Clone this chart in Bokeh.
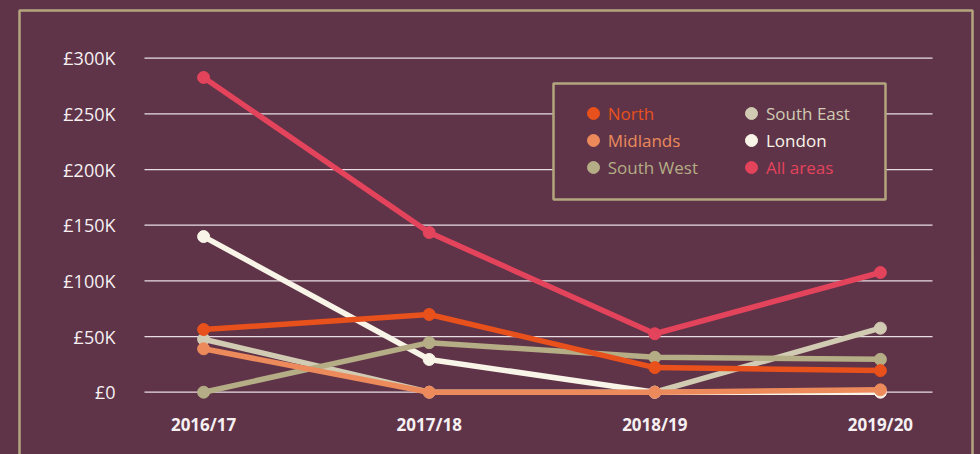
from bokeh.plotting import figure
from bokeh.models import Range1d, Legend, LegendItem, BoxAnnotation
from bokeh.core.properties import value
from bokeh.embed import file_html
from bokeh.resources import INLINE

# ---- data (values in £ thousands) ----
years = ["2016/17", "2017/18", "2018/19", "2019/20"]
north = [56.3, 69.8, 22.1, 19.4]
midlands = [39.0, 0.0, 0.0, 2.1]
south_west = [0.0, 44.5, 31.3, 29.5]
south_east = [47.6, 0.0, 0.0, 57.5]
london = [139.8, 29.4, 0.0, 0.0]
all_areas = [282.7, 143.4, 52.5, 107.5]
y_ticks = [0, 50, 100, 150, 200, 250, 300]
y_tick_labels = ["£0", "£50K", "£100K", "£150K", "£200K", "£250K", "£300K"]

BG = "#5f3448"
GOLD = "#b3a67e"
FONT = "Open Sans"
TXT = "#f6f0f2"

x = list(range(len(years)))
GRID_X0, GRID_X1 = -0.262, 3.231   # horizontal extent of the value grid

# the frame covers the whole canvas; the (inner) value area is drawn inside it
p = figure(width=980, height=454, output_backend="svg", toolbar_location=None,
           x_axis_type=None, y_axis_type=None,
           x_range=Range1d(-0.9003, 3.4437), y_range=Range1d(-55.96, 351.83),
           min_border=0)
p.background_fill_color = BG
p.border_fill_color = BG
p.outline_line_color = None

# grid lines
p.segment(x0=[GRID_X0] * len(y_ticks), x1=[GRID_X1] * len(y_ticks),
          y0=y_ticks, y1=y_ticks, line_color="#e9dde3", line_width=1.2)

# y tick labels
p.text(x=[GRID_X0] * len(y_ticks), y=y_ticks, text=y_tick_labels,
       x_offset=-29, text_align="right", text_baseline="middle",
       text_color=TXT, text_font=value(FONT), text_font_size="18px")
# x tick labels
p.text(x=x, y=[0] * len(x), text=years, y_offset=32,
       text_align="center", text_baseline="middle",
       text_color=TXT, text_font=value(FONT), text_font_size="17px",
       text_font_style="bold")

# outer frame and legend box
p.add_layout(BoxAnnotation(left=19, right=972, top=10, bottom=700,
                           left_units="canvas", right_units="canvas",
                           top_units="canvas", bottom_units="canvas",
                           fill_alpha=0, line_color=GOLD, line_alpha=1, line_width=2.5))
p.add_layout(BoxAnnotation(left=553, right=885, top=83, bottom=199,
                           left_units="canvas", right_units="canvas",
                           top_units="canvas", bottom_units="canvas",
                           fill_color=BG, fill_alpha=1, line_color=GOLD, line_alpha=1,
                           line_width=2.5))

series = [
    # name, values, colour, legend column, legend row
    ("London", london, "#f8f4e8", 1, 1),
    ("South East", south_east, "#d1cbb3", 1, 0),
    ("South West", south_west, "#b4ad86", 0, 2),
    ("North", north, "#e8501c", 0, 0),
    ("Midlands", midlands, "#ec8a5c", 0, 1),
    ("All areas", all_areas, "#e4435c", 1, 2),
]

col_x = [577.7, 736.0]
row_y = [325.7, 299.0, 271.7]

for name, vals, col, c, r in series:
    p.line(x, vals, line_color=col, line_width=5.5, line_join="round", line_cap="round")
    sr = p.scatter(x, vals, size=12, fill_color=col, line_color=col, line_width=1)
    leg = Legend(items=[LegendItem(label=name, renderers=[sr])],
                 location=(col_x[c], row_y[r]),
                 glyph_width=30, glyph_height=30, label_height=30,
                 label_standoff=0, padding=0, margin=0, spacing=0,
                 border_line_alpha=0, background_fill_alpha=0,
                 label_text_color=col, label_text_font=FONT,
                 label_text_font_size="17px")
    p.add_layout(leg)

html = file_html(p, INLINE)
html = html.replace("</head>", "<style>html,body{background:%s;}</style></head>" % BG, 1)
open("out.html", "w").write(html)
